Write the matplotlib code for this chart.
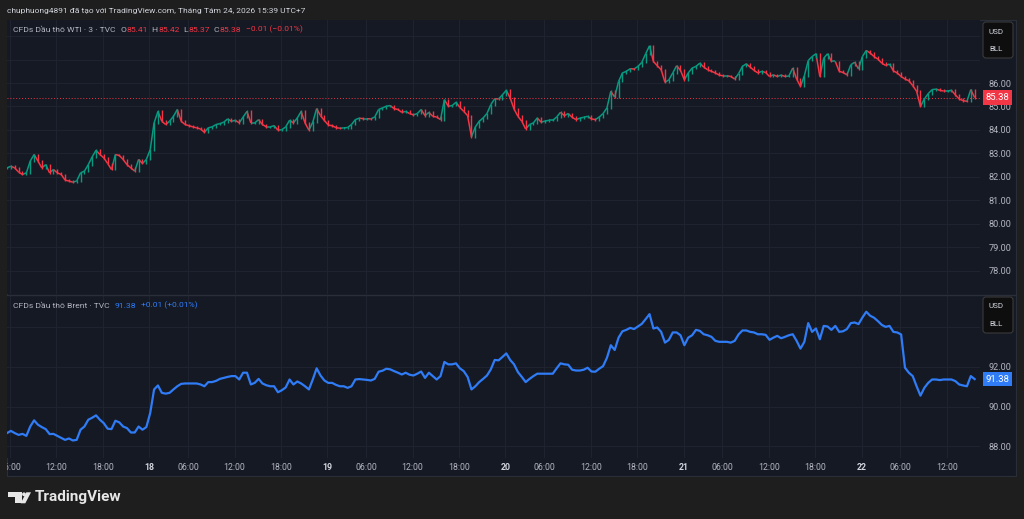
import numpy as np
import matplotlib
matplotlib.use("Agg")
import matplotlib.pyplot as plt
from matplotlib.patches import Rectangle, FancyBboxPatch, Polygon, Circle
from matplotlib.collections import LineCollection
from matplotlib.transforms import blended_transform_factory

W, H = 1024, 519

# closes every half trading hour (3 min candles, resampled by eye)
wti_close = [
    82.38, 82.45, 82.38, 82.20, 82.10, 82.17, 82.67, 82.95, 82.67, 82.38,
    82.52, 82.17, 82.31, 82.17, 82.10, 81.86, 81.82, 81.77, 81.82, 82.17,
    82.24, 82.52, 82.85, 83.13, 82.95, 82.81, 82.57, 82.31, 82.95, 82.91,
    82.74, 82.52, 82.38, 82.24, 82.74, 82.57, 82.74, 83.16, 84.30, 84.79,
    84.37, 84.23, 84.37, 84.58, 84.87, 84.37, 84.23, 84.18, 84.13, 84.09,
    84.04, 83.90, 84.09, 84.13, 84.23, 84.27, 84.33, 84.47, 84.37, 84.41,
    84.30, 84.55, 84.79, 84.30, 84.30, 84.44, 84.23, 84.13, 84.13, 84.18,
    83.99, 84.01, 84.13, 84.41, 84.30, 84.51, 84.79, 84.30, 83.99, 84.33,
    84.91, 84.61, 84.40, 84.21, 84.18, 84.10, 84.07, 84.09, 84.10, 84.23,
    84.44, 84.50, 84.48, 84.48, 84.47, 84.55, 84.87, 84.94, 85.01, 85.04,
    84.91, 84.87, 84.75, 84.79, 84.70, 84.64, 84.70, 84.87, 84.61, 84.75,
    84.58, 84.55, 84.44, 85.29, 85.01, 85.04, 85.18, 84.96, 84.79, 84.61,
    83.70, 84.13, 84.37, 84.51, 84.70, 85.08, 85.33, 85.32, 85.50, 85.69,
    85.36, 84.89, 84.58, 84.37, 84.04, 84.23, 84.30, 84.51, 84.33, 84.38,
    84.41, 84.41, 84.55, 84.75, 84.61, 84.70, 84.54, 84.44, 84.50, 84.54,
    84.58, 84.47, 84.44, 84.55, 84.70, 84.94, 85.65, 85.40, 86.07, 86.43,
    86.50, 86.61, 86.60, 86.71, 86.88, 87.25, 87.59, 86.92, 86.74, 86.57,
    86.03, 86.14, 86.43, 86.74, 86.54, 86.14, 86.43, 86.64, 86.71, 86.85,
    86.68, 86.57, 86.50, 86.43, 86.34, 86.31, 86.31, 86.28, 86.17, 86.40,
    86.71, 86.82, 86.68, 86.54, 86.43, 86.50, 86.45, 86.28, 86.35, 86.28,
    86.34, 86.28, 86.30, 86.64, 86.17, 85.86, 86.31, 86.96, 87.13, 87.25,
    86.28, 87.06, 87.25, 86.92, 86.92, 86.50, 86.45, 86.35, 86.78, 86.89,
    86.60, 87.13, 87.39, 87.28, 87.13, 87.02, 86.85, 86.75, 86.81, 86.52,
    86.43, 86.28, 86.17, 86.10, 85.89, 85.65, 85.00, 85.32, 85.55, 85.72,
    85.74, 85.69, 85.66, 85.66, 85.69, 85.50, 85.32, 85.25, 85.22, 85.72, 85.38,
]

brent_close = [
    88.67, 88.78, 88.67, 88.58, 88.63, 88.53, 89.00, 89.31, 89.09, 88.97,
    88.87, 88.62, 88.63, 88.53, 88.43, 88.33, 88.40, 88.30, 88.33, 88.84,
    89.00, 89.34, 89.44, 89.56, 89.34, 89.17, 88.89, 88.87, 89.29, 89.21,
    89.00, 88.92, 88.70, 88.70, 89.00, 88.84, 88.97, 89.68, 90.86, 91.06,
    90.69, 90.65, 90.69, 90.86, 91.02, 91.14, 91.16, 91.16, 91.16, 91.16,
    91.11, 91.02, 91.23, 91.23, 91.29, 91.39, 91.44, 91.49, 91.53, 91.53,
    91.36, 91.70, 91.70, 91.11, 91.19, 91.39, 91.16, 91.07, 91.02, 91.02,
    90.72, 90.82, 90.96, 91.36, 91.11, 91.26, 91.16, 91.02, 90.86, 91.36,
    91.92, 91.56, 91.31, 91.19, 91.19, 91.09, 91.02, 91.02, 90.94, 91.02,
    91.36, 91.38, 91.36, 91.34, 91.31, 91.39, 91.75, 91.80, 91.90, 91.87,
    91.78, 91.70, 91.61, 91.70, 91.60, 91.56, 91.65, 91.76, 91.44, 91.70,
    91.53, 91.36, 91.53, 92.24, 92.12, 92.12, 92.17, 91.92, 91.78, 91.49,
    90.86, 91.02, 91.23, 91.39, 91.56, 91.87, 92.34, 92.32, 92.49, 92.67,
    92.34, 92.12, 91.73, 91.49, 91.23, 91.39, 91.53, 91.65, 91.65, 91.65,
    91.65, 91.65, 91.92, 92.17, 92.12, 92.10, 91.85, 91.81, 91.81, 91.85,
    91.95, 91.76, 91.75, 91.90, 92.03, 92.45, 93.08, 92.84, 93.46, 93.78,
    93.85, 93.95, 93.89, 94.02, 94.15, 94.39, 94.64, 93.92, 93.97, 93.75,
    93.21, 93.35, 93.72, 93.72, 93.58, 93.08, 93.46, 93.58, 93.85, 93.80,
    93.63, 93.58, 93.50, 93.30, 93.25, 93.25, 93.25, 93.21, 93.30, 93.62,
    93.82, 93.82, 93.75, 93.72, 93.63, 93.63, 93.60, 93.35, 93.46, 93.55,
    93.43, 93.50, 93.58, 93.63, 93.30, 92.91, 93.25, 94.19, 93.75, 93.92,
    93.38, 94.05, 94.02, 93.85, 94.05, 93.75, 93.78, 93.89, 94.19, 94.22,
    94.14, 94.47, 94.76, 94.56, 94.46, 94.29, 94.10, 94.00, 94.05, 93.75,
    93.72, 93.62, 91.95, 91.70, 91.53, 91.02, 90.55, 90.94, 91.19, 91.36,
    91.36, 91.33, 91.36, 91.36, 91.36, 91.28, 91.11, 91.06, 91.02, 91.53, 91.38,
]

wti_ticks = [77, 78, 79, 80, 81, 82, 83, 84, 85, 86, 87, 88]
wti_labeled = [78, 79, 80, 81, 82, 83, 84, 85, 86]
brent_ticks = [88, 90, 92, 94]
brent_labeled = [88, 90, 92]

# trading hours since 17th 06:00 (the daily 1h break is skipped)
time_pos = [0, 6, 12, 18, 23, 29, 35, 41, 46, 52, 58, 64, 69, 75, 81, 87,
            92, 98, 104, 110, 115, 121]
time_lab = ["06:00", "12:00", "18:00", "18", "06:00", "12:00", "18:00", "19",
            "06:00", "12:00", "18:00", "20", "06:00", "12:00", "18:00", "21",
            "06:00", "12:00", "18:00", "22", "06:00", "12:00"]

header = "chuphuong4891 đã tạo với TradingView.com, Tháng Tám 24, 2026 15:39 UTC+7"
wti_name = "CFDs Dầu thô WTI · 3 · TVC"
wti_ohlc = [("O", "85.41"), ("H", "85.42"), ("L", "85.37"), ("C", "85.38")]
wti_chg = "−0.01 (−0.01%)"
brent_name = "CFDs Dầu thô Brent · TVC"
brent_last = "91.38"
brent_chg = "+0.01 (+0.01%)"

BG = "#1e1e1e"
PANEL = "#151924"
GRID = "#1f2330"
BORDER = "#2a2e39"
TXT = "#b2b5be"
UP = "#089981"
DOWN = "#f23645"
BLUE = "#2f7cf6"
FS = 6.1

plt.rcParams["font.family"] = ["Roboto", "DejaVu Sans"]

fig = plt.figure(figsize=(W / 100, H / 100), dpi=100, facecolor=BG)


def px_axes(x0, y0, x1, y1, z):
    return fig.add_axes([x0 / W, 1 - y1 / H, (x1 - x0) / W, (y1 - y0) / H], zorder=z)


under = px_axes(0, 0, W, H, 0)
under.set_xlim(0, W)
under.set_ylim(H, 0)
under.axis("off")
under.add_patch(Rectangle((7, 20), 1009, 456, fc=PANEL, ec=BORDER, lw=0.8))

over = px_axes(0, 0, W, H, 10)
over.set_xlim(0, W)
over.set_ylim(H, 0)
over.axis("off")
over.patch.set_alpha(0)

t = -0.39 + 0.5 * np.arange(len(wti_close))
xlim = (-0.39, 125.3)

ax1 = px_axes(7, 20, 980, 294, 1)
ax2 = px_axes(7, 295, 980, 458, 1)
for ax in (ax1, ax2):
    ax.set_facecolor(PANEL)
    ax.set_xlim(*xlim)
    for s in ax.spines.values():
        s.set_visible(False)
    ax.set_xticks(time_pos)
    ax.tick_params(axis="x", length=0, labelbottom=False)
    ax.yaxis.tick_right()
    ax.tick_params(axis="y", length=0, pad=6, labelcolor=TXT, labelsize=6.6)
    ax.grid(True, color=GRID, lw=0.8)
    ax.set_axisbelow(True)

# WTI candles: open = previous close, dense enough to read as a jagged band
close = np.array(wti_close)
opn = np.r_[close[0], close[:-1]]
cols = np.where(close >= opn, UP, DOWN)
lo = np.minimum(opn, close)
hi = np.maximum(opn, close)
segs = np.stack([np.column_stack([t - 0.5, opn]), np.column_stack([t, close])], axis=1)[1:]
ax1.add_collection(LineCollection(segs, colors=cols[1:], lw=1.1, zorder=3))
ax1.vlines(t, lo - 0.04, hi + 0.04, colors=cols, lw=1.0, zorder=3)
ax1.set_ylim(77.08, 88.69)
ax1.set_yticks(wti_ticks)
ax1.set_yticklabels([f"{v:.2f}" if v in wti_labeled else "" for v in wti_ticks])
ax1.axhline(wti_close[-1], color=DOWN, lw=0.7, ls=(0, (1, 2)), zorder=2)

# Brent line
ax2.plot(t, brent_close, color=BLUE, lw=1.6, zorder=3)
ax2.set_ylim(87.42, 95.6)
ax2.set_yticks(brent_ticks)
ax2.set_yticklabels([f"{v:.2f}" if v in brent_labeled else "" for v in brent_ticks])

# last price badges
for ax, val, c in ((ax1, wti_close[-1], DOWN), (ax2, brent_close[-1], BLUE)):
    tr = blended_transform_factory(ax.transAxes, ax.transData)
    ax.annotate(f"{val:.2f}", xy=(1.0, val), xycoords=tr, xytext=(4, 0),
                textcoords="offset points", ha="left", va="center",
                color="white", fontsize=6.8,
                bbox=dict(boxstyle="square,pad=0.3", fc=c, ec="none"),
                annotation_clip=False, zorder=20)

# time axis
axt = px_axes(7, 458, 980, 476, 2)
axt.set_xlim(*xlim)
axt.set_ylim(0, 1)
axt.axis("off")
for p, lab in zip(time_pos, time_lab):
    day = ":" not in lab
    tx = axt.text(p, 0.5, lab, ha="center", va="center", fontsize=6.3,
                  color="#d1d4dc" if day else TXT,
                  fontweight="bold" if day else "normal")
    tx.set_clip_box(axt.bbox)
    tx.set_clip_on(True)
over.plot([7, 1016], [294.5, 294.5], color=BORDER, lw=1)

# USD / BLL boxes
for y0 in (22, 297):
    over.add_patch(FancyBboxPatch((983, y0), 30, 36,
                                  boxstyle="round,pad=0,rounding_size=3",
                                  fc="#0e0e0e", ec="#3a3a3a", lw=0.8))
    over.text(996, y0 + 9.5, "USD", ha="center", va="center", fontsize=5.8, color="#d1d4dc")
    over.text(996, y0 + 27, "BLL", ha="center", va="center", fontsize=5.8, color="#d1d4dc")

# header and legends
over.text(7, 11, header, ha="left", va="center", fontsize=6.0, color="#d1d4dc")


def chain(prev, txt, color, gap):
    return over.annotate(txt, xy=(1, 0), xycoords=prev, xytext=(gap, 0),
                         textcoords="offset points", ha="left", va="bottom",
                         fontsize=FS, color=color)


prev = over.text(13, 30, wti_name, ha="left", va="center", fontsize=FS, color=TXT)
for i, (k, v) in enumerate(wti_ohlc):
    prev = chain(prev, k, TXT, 3.3 if i == 0 else 2.8)
    prev = chain(prev, v, DOWN, 0.3)
prev = chain(prev, wti_chg, DOWN, 3.5)

prev = over.text(13, 306, brent_name, ha="left", va="center", fontsize=FS, color=TXT)
prev = chain(prev, brent_last, BLUE, 3.8)
prev = chain(prev, brent_chg, BLUE, 3.5)

# TradingView logo
over.add_patch(Polygon([(8.3, 492.3), (21.7, 492.3), (21.7, 503.3), (15, 503.3),
                        (15, 496.7), (8.3, 496.7)], closed=True, fc="#e6e6e6", ec="none"))
over.add_patch(Circle((24, 494.3), 1.9, fc="#e6e6e6", ec="none"))
over.add_patch(Polygon([(26.3, 492.3), (31, 492.3), (25.3, 503.3), (20.7, 503.3)],
                       closed=True, fc="#e6e6e6", ec="none"))
over.text(35, 497.5, "TradingView", ha="left", va="center", fontsize=11,
          fontweight="bold", color="#e6e6e6")

fig.savefig("out.png", dpi=100, facecolor=BG)
